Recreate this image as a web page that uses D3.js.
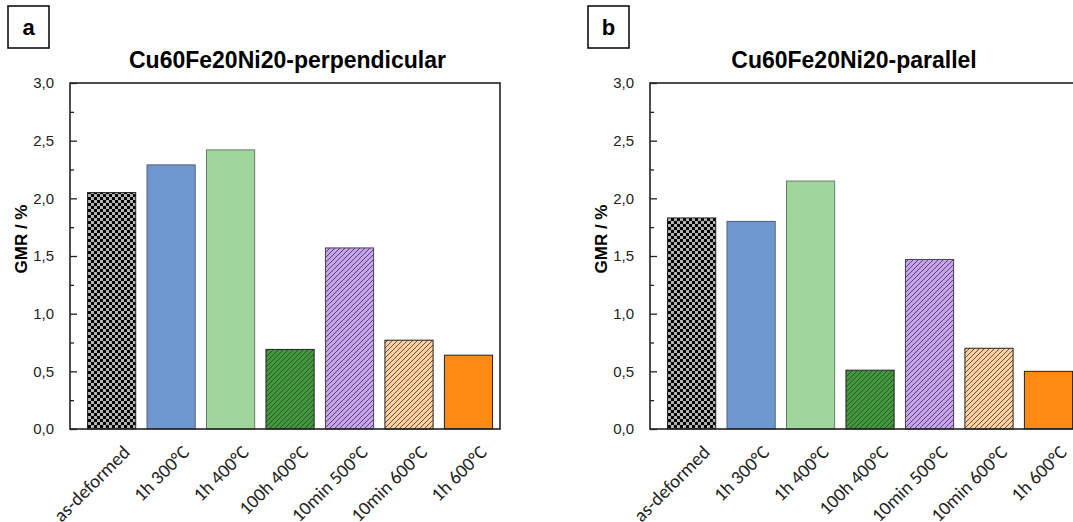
<!DOCTYPE html>
<html>
<head>
<meta charset="utf-8">
<script src="https://cdn.jsdelivr.net/npm/d3@7"></script>
<style>
  body { margin: 0; background: #fff; }
  svg { display: block; }
  .tit { font-family: "Liberation Sans", Arial, sans-serif; font-weight: bold; font-size: 23px; }
  .ylab { font-family: "Liberation Sans", Arial, sans-serif; font-weight: bold; font-size: 17px; }
  .yax text { font-family: "Liberation Sans", Arial, sans-serif; font-size: 15px; fill: #222; }
  .xlab { font-family: Carlito, Lato, sans-serif; font-size: 19px; fill: #222; }
</style>
</head>
<body>
<svg id="chart" width="1073" height="522"></svg>
<script>
var width = 1073,
    height = 522;

var categories = ['as-deformed', '1h 300°C', '1h 400°C', '100h 400°C', '10min 500°C', '10min 600°C', '1h 600°C'];
var perpValues = [2.05, 2.29, 2.42, 0.69, 1.57, 0.77, 0.64];
var paraValues = [1.83, 1.80, 2.15, 0.51, 1.47, 0.70, 0.50];
var majorTicks = [0, 0.5, 1.0, 1.5, 2.0, 2.5, 3.0];
var minorTicks = [0.25, 0.75, 1.25, 1.75, 2.25, 2.75];
var barFills = ['url(#checker)', '#6f98d0', '#9fd69b', 'url(#hatchDark)', 'url(#hatchPurple)', 'url(#hatchPeach)', '#ff8912'];
var barStrokes = ['#222', '#4f5f78', '#6a7a6a', '#222', '#444', '#222', '#222'];

var svg = d3.select('#chart');
var defs = svg.append('defs');

// checkerboard for as-deformed
var chk = defs.append('pattern')
    .attr('id', 'checker')
    .attr('patternUnits', 'userSpaceOnUse')
    .attr('width', 6).attr('height', 6);
chk.append('rect').attr('width', 6).attr('height', 6).attr('fill', '#b4b4b4');
chk.append('rect').attr('width', 3).attr('height', 3).attr('fill', '#000');
chk.append('rect').attr('x', 3).attr('y', 3).attr('width', 3).attr('height', 3).attr('fill', '#000');

function hatch(id, color) {
  var p = defs.append('pattern')
      .attr('id', id)
      .attr('patternUnits', 'userSpaceOnUse')
      .attr('width', 5).attr('height', 5);
  p.append('rect').attr('width', 5).attr('height', 5).attr('fill', color);
  p.append('path')
      .attr('d', 'M-1,1 L1,-1 M0,5 L5,0 M4,6 L6,4')
      .attr('stroke', '#333')
      .attr('stroke-width', 0.8);
}
hatch('hatchDark', '#3f9b3a');
hatch('hatchPurple', '#c9a3f3');
hatch('hatchPeach', '#ffcf9e');

var pw = 430, ph = 346;

function drawPanel(ox, letter, title, titleX, values) {
  var g = svg.append('g').attr('transform', 'translate(' + ox + ',83)');

  var x = d3.scaleLinear().domain([-0.7, 6.53]).range([0, pw]);
  var y = d3.scaleLinear().domain([0, 3]).range([ph, 0]);
  var bw = x(0.81) - x(0);

  // letter box
  svg.append('rect')
      .attr('x', ox - 62).attr('y', 6)
      .attr('width', 41).attr('height', 42)
      .attr('fill', 'none').attr('stroke', '#111').attr('stroke-width', 1.6);
  svg.append('text')
      .attr('class', 'tit')
      .attr('x', ox - 41.5).attr('y', 35)
      .attr('text-anchor', 'middle')
      .style('font-size', '22px')
      .text(letter);

  g.append('text')
      .attr('class', 'tit')
      .attr('x', titleX).attr('y', -15)
      .attr('text-anchor', 'middle')
      .text(title);

  g.selectAll('rect.bar')
      .data(values)
      .enter()
      .append('rect')
      .attr('class', 'bar')
      .attr('x', function(d, i) { return x(i) - bw / 2; })
      .attr('y', function(d) { return y(d); })
      .attr('width', bw)
      .attr('height', function(d) { return ph - y(d); })
      .attr('fill', function(d, i) { return barFills[i]; })
      .attr('stroke', function(d, i) { return barStrokes[i]; })
      .attr('stroke-width', 1);

  // frame
  g.append('rect')
      .attr('width', pw).attr('height', ph)
      .attr('fill', 'none').attr('stroke', '#222').attr('stroke-width', 1.6);

  var yAxis = g.append('g').attr('class', 'yax')
      .call(d3.axisLeft(y).tickValues(majorTicks).tickSize(-7).tickPadding(16)
        .tickFormat(function(d) { return d3.format('.1f')(d).replace('.', ','); }));
  yAxis.select('.domain').remove();
  yAxis.selectAll('line').attr('stroke', '#222').attr('stroke-width', 1.3);

  var yMinor = g.append('g')
      .call(d3.axisLeft(y).tickValues(minorTicks).tickSize(-4).tickFormat(''));
  yMinor.select('.domain').remove();
  yMinor.selectAll('line').attr('stroke', '#222').attr('stroke-width', 1.3);

  g.append('text')
      .attr('class', 'ylab')
      .attr('transform', 'translate(-43,' + (ph / 2 - 17) + ') rotate(-90)')
      .attr('text-anchor', 'middle')
      .text('GMR / %');

  g.selectAll('text.xlab')
      .data(categories)
      .enter()
      .append('text')
      .attr('class', 'xlab')
      .attr('text-anchor', 'end')
      .attr('transform', function(d, i) {
        return 'translate(' + (x(i) + 10) + ',' + (ph + 15) + ') rotate(-45)';
      })
      .attr('dy', '0.7em')
      .text(function(d) { return d; });
}

drawPanel(70, 'a', 'Cu60Fe20Ni20-perpendicular', 217.5, perpValues);
drawPanel(650, 'b', 'Cu60Fe20Ni20-parallel', 204, paraValues);
</script>
</body>
</html>
